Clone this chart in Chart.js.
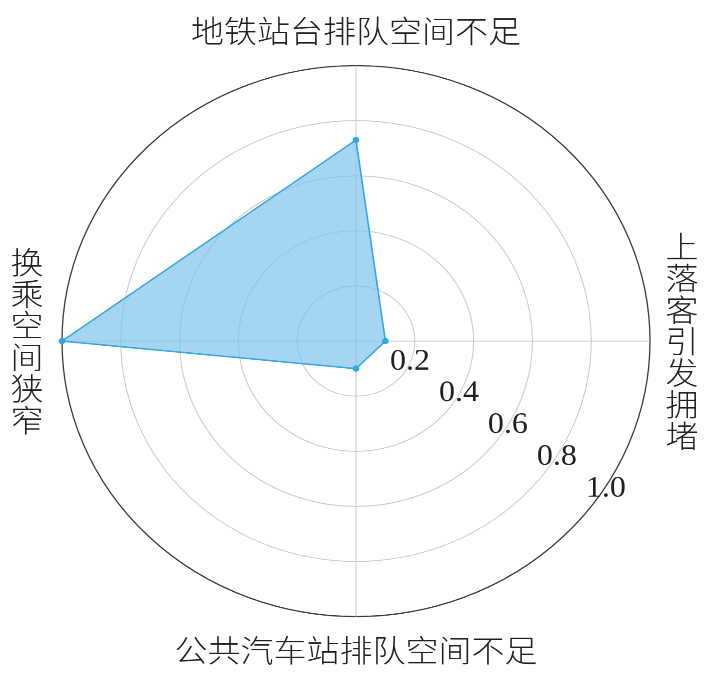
<!DOCTYPE html>
<html>
<head>
<meta charset="utf-8">
<script src="https://cdn.jsdelivr.net/npm/chart.js@4.4.1/dist/chart.umd.min.js"></script>
<style>
  html, body { margin: 0; padding: 0; background: #fff; overflow: hidden; }
  #wrap { width: 707px; height: 678px; overflow: hidden; }
  /* the source picture is a bit wider than tall, so squash the round chart */
  #radar { display: block; transform: scaleY(0.937); transform-origin: 0 0; }
</style>
</head>
<body>
<div id="wrap"><canvas id="radar" width="707" height="724"></canvas></div>
<script>
// axes, clockwise from the top
const axisLabels = ['地铁站台排队空间不足', '上落客引发拥堵', '公共汽车站排队空间不足', '换乘空间狭窄'];
const values = [0.73, 0.10, 0.10, 1.0];
const tickValues = [0.2, 0.4, 0.6, 0.8, 1.0];
const tickLabels = ['0.2', '0.4', '0.6', '0.8', '1.0'];

const cjkFont = '300 33px "Noto Sans CJK SC", "Noto Sans", sans-serif';
const numFont = '32px "Liberation Serif", "Times New Roman", Times, serif';

// axis titles: top/bottom horizontal, left/right stacked one character per line
const labelPlugin = {
    id: 'axisText',
    afterDraw(chart) {
        const scale = chart.scales.r;
        const ctx = chart.ctx;
        const dist = [331, 326, 330, 329];
        ctx.save();
        ctx.font = cjkFont;
        ctx.fillStyle = '#231f20';
        ctx.textAlign = 'center';
        ctx.textBaseline = 'middle';
        axisLabels.forEach((txt, i) => {
            const p = scale.getPointPosition(i, dist[i]);
            if (i % 2 === 0) {
                ctx.fillText(txt, p.x, p.y);
            } else {
                const chars = txt.split('');
                const step = 33.7;
                const y0 = p.y - (chars.length - 1) * step / 2;
                chars.forEach((c, k) => ctx.fillText(c, p.x, y0 + k * step));
            }
        });

        // radius ticks run down to the lower right
        const ang = 34.7 * Math.PI / 180;
        ctx.font = numFont;
        tickValues.forEach((v, i) => {
            const d = scale.getDistanceFromCenterForValue(v);
            const x = scale.xCenter + Math.cos(ang) * d * 1.013 + 5;
            const y = scale.yCenter + Math.sin(ang) * d * 1.013 - 12;
            ctx.fillText(tickLabels[i], x, y);
        });
        ctx.restore();
    }
};

new Chart(document.getElementById('radar'), {
    type: 'radar',
    data: {
        labels: axisLabels,
        datasets: [{
            data: values,
            backgroundColor: 'rgba(130, 197, 236, 0.72)',
            borderColor: '#35a7dd',
            borderWidth: 1.6,
            pointBackgroundColor: '#35a7dd',
            pointBorderColor: '#35a7dd',
            pointRadius: 2.6,
            fill: true
        }]
    },
    options: {
        responsive: false,
        animation: false,
        devicePixelRatio: 2,
        layout: { padding: { left: 62, right: 56, top: 70, bottom: 65 } },
        plugins: {
            legend: { display: false },
            tooltip: { enabled: false }
        },
        scales: {
            r: {
                min: 0,
                max: 1,
                ticks: { display: false, stepSize: 0.2 },
                pointLabels: { display: false },
                grid: {
                    circular: true,
                    color: ctx => ctx.index === 5 ? '#3a3a3a' : '#c9c9c9',
                    lineWidth: ctx => ctx.index === 5 ? 1.3 : 1
                },
                angleLines: { color: '#c9c9c9', lineWidth: 1 }
            }
        }
    },
    plugins: [labelPlugin]
});
</script>
</body>
</html>
